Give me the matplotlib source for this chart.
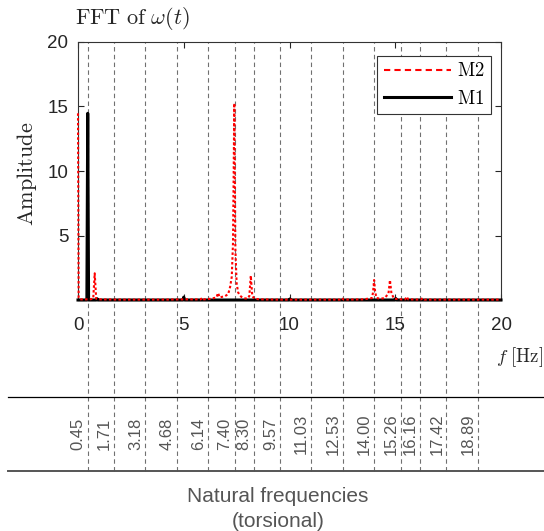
import matplotlib
matplotlib.use("Agg")
import matplotlib.pyplot as plt
import matplotlib.transforms as mtransforms
from matplotlib.lines import Line2D

plt.rcParams['font.family'] = ['Liberation Sans', 'DejaVu Sans']
plt.rcParams['mathtext.fontset'] = 'cm'

# M2 spectrum (red dotted)
m2_freq = [0.0, 0.03, 0.08, 0.3, 0.55, 0.72, 0.79, 0.86, 1.0, 2.0, 3.0, 4.0, 5.0,
           5.8, 5.88, 5.95, 6.3, 6.55, 6.62, 6.7, 6.95, 7.1, 7.19, 7.27, 7.33,
           7.39, 7.44, 7.5, 7.57, 7.63, 7.72, 7.82, 8.0, 8.1, 8.17, 8.24, 8.35,
           8.6, 9.5, 11.0, 12.38, 12.47, 12.56, 13.5, 13.9, 13.95, 14.0, 14.05,
           14.12, 14.3, 14.5, 14.68, 14.75, 14.82, 14.95, 15.3, 15.47, 15.54,
           15.61, 16.2, 16.3, 16.38, 17.5, 20.0]
m2_amp = [14.47, 0.2, 0.05, 0.05, 0.05, 0.1, 2.07, 0.1, 0.05, 0.03, 0.03, 0.03, 0.05,
          0.05, 0.18, 0.05, 0.1, 0.2, 0.55, 0.2, 0.3, 0.45, 1.0, 1.8, 4.5,
          15.25, 4.0, 1.3, 0.6, 0.4, 0.25, 0.15, 0.1, 0.3, 1.89, 0.3, 0.1,
          0.05, 0.03, 0.03, 0.03, 0.15, 0.03, 0.05, 0.15, 0.6, 1.55, 0.6,
          0.15, 0.1, 0.15, 0.5, 1.55, 0.5, 0.1, 0.05, 0.05, 0.26,
          0.05, 0.03, 0.15, 0.03, 0.03, 0.03]

# M1 spectrum (black solid)
m1_freq = [0.0, 0.42, 0.46, 0.5, 0.86, 0.9, 0.94, 4.96, 5.0, 5.04, 9.98, 10.02,
           10.06, 14.98, 15.02, 15.06, 20.0]
m1_amp = [0.0, 0.0, 14.47, 0.0, 0.0, 0.1, 0.0, 0.0, 0.22, 0.0, 0.0, 0.08,
          0.0, 0.0, 0.12, 0.0, 0.0]

# torsional natural frequencies
nat_freq = [0.45, 1.71, 3.18, 4.68, 6.14, 7.40, 8.30, 9.57, 11.03, 12.53,
            14.00, 15.26, 16.16, 17.42, 18.89]

x_ticks = [0, 5, 10, 15, 20]
y_ticks = [0, 5, 10, 15, 20]
y_ticklabels = ['', '5', '10', '15', '20']

W, H = 544, 531
fig = plt.figure(figsize=(W / 100, H / 100), dpi=100)
ax = fig.add_axes([78 / W, 1 - 300 / H, 423 / W, 258 / H])

ax.plot(m1_freq, m1_amp, color='black', lw=2.2, clip_on=False, zorder=3)
ax.plot(m2_freq, m2_amp, color='red', lw=1.5, linestyle=(0, (1.2, 1.1)),
        clip_on=False, zorder=4)

ax.set_xlim(0, 20)
ax.set_ylim(0, 20)
ax.set_xticks(x_ticks)
ax.set_yticks(y_ticks)
ax.set_yticklabels(y_ticklabels)
ax.tick_params(direction='in', top=True, right=True, length=4, width=0.8,
               labelsize=13.5, colors='#262626')
ax.tick_params(axis='x', pad=12)
ax.tick_params(axis='y', pad=7)
for sp in ax.spines.values():
    sp.set_color('#333333')
    sp.set_linewidth(0.8)

# vertical dashed lines for natural frequencies, running into the lower band
y_bottom = (300 - 471) / 258
for f in nat_freq:
    ax.axvline(f, ymin=y_bottom, ymax=1, color='#707070', lw=0.8,
               dashes=(4, 3), clip_on=False, zorder=1)

blend = mtransforms.blended_transform_factory(ax.transData, fig.transFigure)
for f in nat_freq:
    ax.text(f - 0.1, 1 - 434 / H, '%.2f' % f, rotation=90, ha='right',
            va='center', fontsize=12, color='#555555', transform=blend)

fig.add_artist(Line2D([8 / W, 1], [1 - 397 / H] * 2, color='black', lw=0.9,
                      transform=fig.transFigure))
fig.add_artist(Line2D([8 / W, 1], [1 - 471 / H] * 2, color='#555555', lw=1.4,
                      transform=fig.transFigure))

fig.text(278 / W, 1 - 509 / H, 'Natural frequencies\n(torsional)', ha='center',
         va='center', fontsize=15, color='#555555', linespacing=1.45)

fig.text(75 / W, 1 - 18 / H, r'$\mathrm{FFT\ of\ }\omega(t)$', ha='left',
         va='center', fontsize=16, color='#262626')
fig.text(27 / W, 1 - 174 / H, r'$\mathrm{Amplitude}$', rotation=90, ha='center',
         va='center', fontsize=16, color='#262626')
fig.text(543 / W, 1 - 357 / H, r'$f\ \mathrm{[Hz]}$', ha='right', va='center',
         fontsize=13.5, color='#262626')

handles = [Line2D([], [], color='red', lw=1.5, dashes=(3, 2)),
           Line2D([], [], color='black', lw=2.2)]
leg = ax.legend(handles, [r'$\mathrm{M2}$', r'$\mathrm{M1}$'], loc='upper right',
                bbox_to_anchor=(0.976, 0.946), borderaxespad=0, fontsize=13.5,
                handlelength=3.6, fancybox=False, framealpha=1,
                edgecolor='#333333', labelspacing=0.5, borderpad=0.35,
                handletextpad=0.3)
leg.get_frame().set_linewidth(0.8)

fig.savefig('out.png', dpi=100)
